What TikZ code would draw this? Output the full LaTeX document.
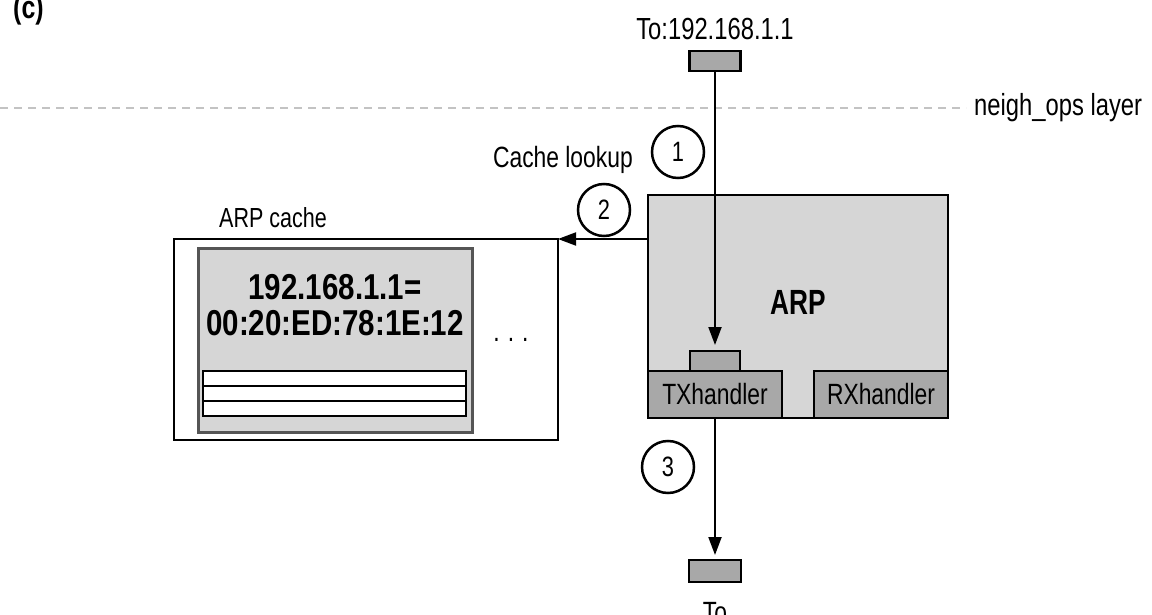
\documentclass[tikz,border=0pt]{standalone}
\usepackage{fontspec}
\setmainfont{Liberation Sans}[FakeStretch=0.78]
\newfontfamily\arpfont{Liberation Sans}[FakeStretch=0.75]
\newfontfamily\entryfont{Liberation Sans}[FakeStretch=0.82]
\usetikzlibrary{arrows.meta}
\definecolor{lgray}{RGB}{214,214,214}
\definecolor{dgray}{RGB}{168,168,168}
\definecolor{layergray}{RGB}{195,195,195}
\definecolor{edgegray}{RGB}{85,85,85}
\tikzset{
  box/.style={draw=black, line width=2.5pt, inner sep=0pt, outer sep=0pt},
  pkt/.style={box, fill=dgray, minimum width=51pt, minimum height=20pt},
  handler/.style={box, fill=dgray, minimum width=134pt, minimum height=47pt, font=\fontsize{29.3}{33}\selectfont},
  lbl/.style={inner sep=0pt, font=\fontsize{29.3}{33}\selectfont},
  num/.style={circle, draw=black, line width=2.5pt, fill=white, minimum size=52pt, inner sep=0pt, font=\fontsize{28}{30}\selectfont},
  conn/.style={draw=black, line width=2pt, -{Triangle[length=18pt,width=13pt]}},
  layer/.style={draw=layergray, line width=1.6pt, dash pattern=on 8pt off 6pt},
  entry/.style={inner sep=0pt, font=\entryfont\bfseries\fontsize{36}{40}\selectfont},
  stripe/.style={draw=black, line width=2pt, fill=white, minimum width=263pt, minimum height=15pt, inner sep=0pt, outer sep=0pt}
}
\begin{document}
\begin{tikzpicture}[x=1pt,y=-1pt]
\useasboundingbox (0,0) rectangle (1152,615);
\fill[white] (0,0) rectangle (1152,615);

% figure tag
\node[inner sep=0pt, anchor=base west, font=\bfseries\fontsize{32}{34}\selectfont] (tag) at (13,19) {(c)};

% layer line
\node[lbl, anchor=west, font=\fontsize{30.5}{33}\selectfont] (neigh) at (974,108) {neigh\_ops layer};
\coordinate (lay0) at (0,108);
\draw[layer] (lay0) -- ([xshift=-8pt]neigh.west);

% top packet
\node[lbl, font=\fontsize{30.5}{33}\selectfont] (tolbl) at (715,29) {To:192.168.1.1};
\node[pkt] (toppkt) at (715,61) {};

% ARP cache
\node[box, fill=white, minimum width=384pt, minimum height=201pt] (cache) at (366,339.5) {};
\node[lbl, anchor=west, font=\fontsize{27.6}{30}\selectfont] (cachelbl) at (219,218) {ARP cache};
\node[box, draw=edgegray, line width=3pt, fill=lgray, minimum width=274pt, minimum height=184pt] (entrybox) at (335,340) {};
\node[entry] (ip) at (335,287) {192.168.1.1=};
\node[entry] (mac) at (335,323) {00:20:ED:78:1E:12};
\node[stripe] (s1) at (334.5,378.5) {};
\node[stripe] (s2) at (334.5,393.5) {};
\node[stripe] (s3) at (334.5,408.5) {};
\node[lbl] (dots) at (511,340) {.\hspace{8pt}.\hspace{8pt}.};

% ARP box
\node[box, fill=lgray, minimum width=300pt, minimum height=223pt] (arp) at (798,306.5) {};
\node[inner sep=0pt, font=\arpfont\bfseries\fontsize{35}{40}\selectfont] (arplbl) at (798,302) {ARP};
\node[pkt, minimum width=50pt] (inpkt) at (715,361) {};
\node[handler] (tx) at (715,394.5) {TXhandler};
\node[handler] (rx) at (881,394.5) {RXhandler};

% bottom packet
\node[pkt, minimum width=52pt, minimum height=22pt] (botpkt) at (715,571) {};
\node[lbl, anchor=north] (botlbl) at (715,602) {To};

% connectors
\draw[conn, shorten >=6pt] (toppkt.south) -- (inpkt.north);
\draw[conn] (arp.west |- cache.north east) -- (cache.north east);
\draw[conn, shorten >=5pt] (tx.south) -- (botpkt.north);

% step labels
\node[lbl, anchor=east] (lookup) at (633,160) {Cache lookup};
\node[num] (n1) at (678,152) {1};
\node[num] (n2) at (604,210) {2};
\node[num] (n3) at (668,467) {3};
\end{tikzpicture}
\end{document}
